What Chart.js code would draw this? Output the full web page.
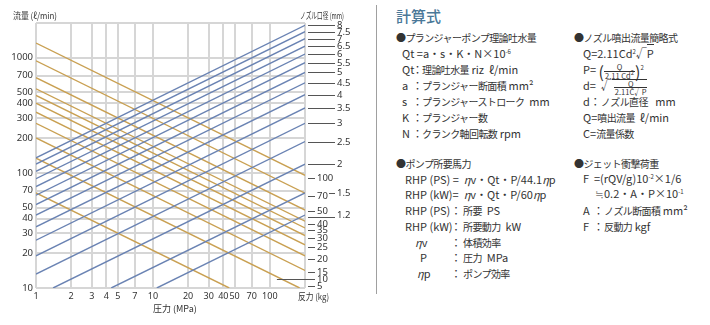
<!DOCTYPE html>
<html lang="ja">
<head>
<meta charset="utf-8">
<title>ノズル口径・反力 線図</title>
<script src="https://cdn.jsdelivr.net/npm/chart.js@4/dist/chart.umd.min.js"></script>
<style>
  body { margin: 0; width: 710px; height: 325px; background: #fff; position: relative; overflow: hidden;
         font-family: "Noto Sans CJK JP", "Noto Sans", sans-serif; color: #333; }
  #nomo { position: absolute; left: 0; top: 0; }
  .sep { position: absolute; left: 376px; top: 5px; width: 1px; height: 289px; background: #a0a0a0; }
  .title { position: absolute; font-size: 15px; line-height: 18px; color: #4a7898; font-weight: 500; }
  .row { position: absolute; font-size: 11px; line-height: 14px; white-space: nowrap; }
  .row sup { font-size: 6px; vertical-align: 4px; line-height: 0; }
  .j { font-size: 10px; letter-spacing: -0.6px; }
  .k { display: inline-block; }
  .c { display: inline-block; text-align: center; }
  .frac { display: inline-flex; flex-direction: column; align-items: center; font-size: 7.5px; line-height: 7.5px; vertical-align: middle; }
  .frac .den { border-top: 1px solid #333; padding: 0 1px; }
  .paren { font-size: 16px; vertical-align: middle; line-height: 0; }
  .radbar { border-top: 1px solid #333; padding-left: 2px; }
  .ol { border-top: 1px solid #333; }
</style>
</head>
<body>
<canvas id="nomo" width="370" height="325"></canvas>
<div class="sep"></div>

<div class="title" style="left:396px;top:7px">計算式</div>

<!-- 左列 -->
<div class="row" style="left:396px;top:30px"><span class="j">●プランジャーポンプ理論吐水量</span></div>
<div class="row" style="left:402px;top:46px">Qt =a・s・K・N×10<sup>-6</sup></div>
<div class="row" style="left:402px;top:62px"><span class="k" style="width:10px">Qt</span><span class="c" style="width:10px">：</span><span class="j">理論吐水量</span> riz&nbsp; ℓ/min</div>
<div class="row" style="left:402px;top:78px"><span class="k" style="width:10px">a</span><span class="c" style="width:10px">：</span><span class="j">プランジャー断面積</span> mm²</div>
<div class="row" style="left:402px;top:94px"><span class="k" style="width:10px">s</span><span class="c" style="width:10px">：</span><span class="j">プランジャーストローク</span>&nbsp; mm</div>
<div class="row" style="left:402px;top:110px"><span class="k" style="width:10px">K</span><span class="c" style="width:10px">：</span><span class="j">プランジャー数</span></div>
<div class="row" style="left:402px;top:126px"><span class="k" style="width:10px">N</span><span class="c" style="width:10px">：</span><span class="j">クランク軸回転数</span> rpm</div>

<div class="row" style="left:396px;top:156px"><span class="j">●ポンプ所要馬力</span></div>
<div class="row" style="left:405px;top:172px">RHP (PS) =&nbsp; <i>η</i>v・Qt・P/44.1<i>η</i>p</div>
<div class="row" style="left:405px;top:187px">RHP (kW)=&nbsp; <i>η</i>v・Qt・P/60<i>η</i>p</div>
<div class="row" style="left:405px;top:203px"><span class="k" style="width:44px">RHP (PS)</span><span class="c" style="width:14px">：</span><span class="j">所要</span>&nbsp; PS</div>
<div class="row" style="left:405px;top:219px"><span class="k" style="width:44px">RHP (kW)</span><span class="c" style="width:14px">：</span><span class="j">所要動力</span>&nbsp; kW</div>
<div class="row" style="left:405px;top:235px"><span class="k" style="width:44px;padding-left:10px;box-sizing:border-box"><i>η</i>v</span><span class="c" style="width:14px">：</span><span class="j">体積効率</span></div>
<div class="row" style="left:405px;top:250px"><span class="k" style="width:44px;padding-left:15px;box-sizing:border-box">P</span><span class="c" style="width:14px">：</span><span class="j">圧力</span>&nbsp; MPa</div>
<div class="row" style="left:405px;top:266px"><span class="k" style="width:44px;padding-left:12px;box-sizing:border-box"><i>η</i>p</span><span class="c" style="width:14px">：</span><span class="j">ポンプ効率</span></div>

<!-- 右列 -->
<div class="row" style="left:574px;top:30px"><span class="j">●ノズル噴出流量簡略式</span></div>
<div class="row" style="left:583px;top:46px">Q=2.11Cd<sup>2</sup>√<span class="ol">P</span></div>
<div class="row" style="left:583px;top:62px">P= <span class="paren">(</span><span class="frac"><span>Q</span><span class="den">2.11 Cd<sup>2</sup></span></span><span class="paren">)</span><sup>2</sup></div>
<div class="row" style="left:583px;top:78px">d= &nbsp;√<span class="frac radbar"><span>Q</span><span class="den">2.11C√P</span></span></div>
<div class="row" style="left:583px;top:94px">d：<span class="j">ノズル直径</span>&nbsp;&nbsp; mm</div>
<div class="row" style="left:583px;top:110px">Q=<span class="j">噴出流量</span>&nbsp; ℓ/min</div>
<div class="row" style="left:583px;top:126px">C=<span class="j">流量係数</span></div>

<div class="row" style="left:574px;top:156px"><span class="j">●ジェット衝撃荷重</span></div>
<div class="row" style="left:583px;top:171px">F&nbsp; =(rQV/g)10<sup>-2</sup>×1/6</div>
<div class="row" style="left:595px;top:186px">≒0.2・A・P×10<sup>-1</sup></div>
<div class="row" style="left:583px;top:203px"><span class="k" style="width:10px">A</span><span class="c" style="width:11px">：</span><span class="j">ノズル断面積</span> mm²</div>
<div class="row" style="left:583px;top:219px"><span class="k" style="width:10px">F</span><span class="c" style="width:11px">：</span><span class="j">反動力</span> kgf</div>

<script>
// 軸の目盛り
const pressureTicks = [1, 2, 3, 4, 5, 7, 10, 20, 30, 40, 50, 70, 100, 200];
const flowTicks = [10, 20, 30, 40, 50, 70, 100, 200, 300, 400, 500, 700, 1000, 2000];

// ノズル口径 (mm) の線 (青): 始点 (圧力, 流量) と 右端 P=200 での流量
const nozzleSizes = ['8', '7.5', '7', '6.5', '6', '5.5', '5', '4.5', '4', '3.5', '3', '2.5', '2', '1.5', '1.2'];
const nozzleStartP = [1, 1, 1, 1, 1, 1, 1, 1, 1, 1, 1, 1, 1.4, 4.4, 10.8];
const nozzleStartQ = [135, 119, 103, 89, 76, 64, 53, 43, 34, 26, 19, 13.2, 10, 10, 10];
const nozzleEndQ = [1910, 1680, 1460, 1260, 1075, 905, 745, 605, 477, 366, 269, 187, 119, 67, 43];

// 反力 (kg) の線 (黄土色): 左端 P=1 での流量と終点
const forceLabels = ['100', '70', '50', '40', '35', '30', '25', '20', '15', '10', '5'];
const forceStartQ = [1340, 940, 670, 537, 470, 403, 336, 269, 201, 134, 67];
const forceEndP = [200, 200, 200, 200, 200, 200, 200, 200, 200, 180, 45];
const forceEndQ = [95, 66.5, 47.5, 38, 33.2, 28.5, 23.7, 19, 14.2, 10, 10];
// 右側ラベルの高さ (流量で表した位置) と引き出し線の始点圧力
const forceLabelQ = [90, 63, 47, 36, 32, 27, 22.7, 18, 13.8, 12, 10.4];
const forceLeaderP = [200, 200, 200, 200, 200, 200, 200, 200, 200, 115, 200];

const blue = '#6a83b3';
const gold = '#c9a052';

const datasets = [];
nozzleSizes.forEach((d, i) => {
    datasets.push({
        label: 'd=' + d,
        data: [{ x: nozzleStartP[i], y: nozzleStartQ[i] }, { x: 200, y: nozzleEndQ[i] }],
        borderColor: blue,
        borderWidth: 1.4,
        pointRadius: 0,
        showLine: true
    });
});
forceLabels.forEach((f, i) => {
    datasets.push({
        label: 'F=' + f,
        data: [{ x: 1, y: forceStartQ[i] }, { x: forceEndP[i], y: forceEndQ[i] }],
        borderColor: gold,
        borderWidth: 1.4,
        pointRadius: 0,
        showLine: true
    });
});

// 右側の目盛りラベルと軸タイトル
const sideLabels = {
    id: 'sideLabels',
    afterDraw(chart) {
        const { ctx, chartArea: a, scales: { x, y } } = chart;
        ctx.save();
        ctx.strokeStyle = '#555';
        ctx.lineWidth = 1;
        ctx.fillStyle = '#333';
        ctx.textBaseline = 'middle';
        ctx.font = '9.5px "Noto Sans"';

        nozzleSizes.forEach((d, i) => {
            const py = Math.round(y.getPixelForValue(nozzleEndQ[i])) + 0.5;
            const x0 = d === '1.5' ? a.right + 24 : a.right + 3;
            ctx.beginPath();
            ctx.moveTo(x0, py + (d === '1.2' ? 2 : 0));
            ctx.lineTo(a.right + 30, py + (d === '1.2' ? 2 : 0));
            ctx.stroke();
            ctx.textAlign = 'left';
            ctx.fillText(d, a.right + 32, py);
        });

        forceLabels.forEach((f, i) => {
            const py = Math.round(y.getPixelForValue(forceLabelQ[i])) + 0.5;
            const x0 = forceLeaderP[i] < 200 ? x.getPixelForValue(forceLeaderP[i]) : a.right + 3;
            ctx.beginPath();
            ctx.moveTo(x0, py);
            ctx.lineTo(a.right + 10, py);
            ctx.stroke();
            ctx.textAlign = 'left';
            ctx.fillText(f, a.right + 12, py);
        });

        ctx.font = '9px "Noto Sans CJK JP"';
        ctx.textAlign = 'left';
        ctx.fillText('流量 (ℓ/min)', 13, 16, 44);
        ctx.fillText('ノズル口径 (mm)', 300, 16, 44);
        ctx.fillText('反力 (kg)', 298, 297, 31);
        ctx.fillText('圧力 (MPa)', 153, 309, 47);
        ctx.restore();
    }
};

const tickFont = { family: '"Noto Sans", sans-serif', size: 9 };

new Chart(document.getElementById('nomo').getContext('2d'), {
    type: 'scatter',
    data: { datasets: datasets },
    options: {
        responsive: false,
        animation: false,
        devicePixelRatio: 1,
        layout: { padding: { top: 23, right: 65, left: 0, bottom: 0 } },
        plugins: { legend: { display: false }, tooltip: { enabled: false } },
        scales: {
            x: {
                type: 'logarithmic',
                min: 1,
                max: 200,
                afterBuildTicks: s => { s.ticks = pressureTicks.map(v => ({ value: v })); },
                afterFit: s => { s.height = 37; },
                border: { display: false },
                grid: { color: '#d6d6d6', lineWidth: 2, drawTicks: false },
                ticks: {
                    autoSkip: false, maxRotation: 0, padding: 3, color: '#333', font: tickFont,
                    callback: v => (v === 200 ? '' : String(v))
                }
            },
            y: {
                type: 'logarithmic',
                min: 10,
                max: 2000,
                afterBuildTicks: s => { s.ticks = flowTicks.map(v => ({ value: v })); },
                afterFit: s => { s.width = 36; },
                border: { display: false },
                grid: { color: '#d6d6d6', lineWidth: 2, drawTicks: false },
                ticks: {
                    autoSkip: false, padding: 3, color: '#333', font: { family: '"Noto Sans", sans-serif', size: 9.5 },
                    callback: v => (v === 2000 ? '' : String(v))
                }
            }
        }
    },
    plugins: [sideLabels]
});
</script>
</body>
</html>
